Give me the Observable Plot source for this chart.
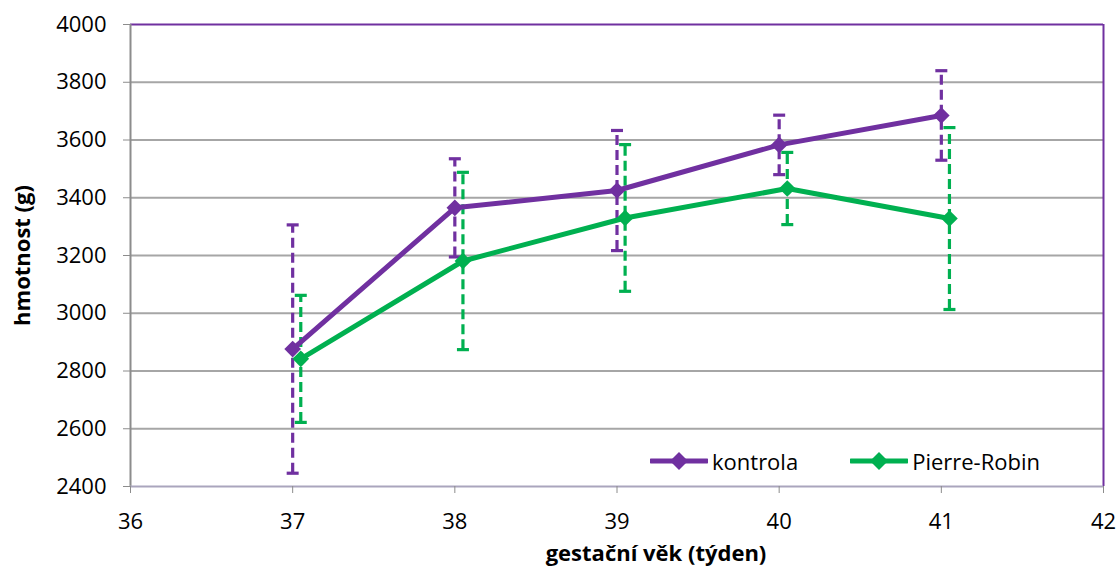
<!DOCTYPE html>
<html>
<head>
<meta charset="utf-8">
<script src="https://cdn.jsdelivr.net/npm/d3@7"></script>
<script src="https://cdn.jsdelivr.net/npm/@observablehq/plot@0.6"></script>
<style>
  html, body { margin: 0; padding: 0; background: #fff; }
  #chart { position: relative; width: 1117px; height: 566px; font-family: "Open Sans", sans-serif; }
  #chart svg { display: block; }
  .legend { position: absolute; left: 650px; top: 446px; display: flex; align-items: center;
            font-family: "Open Sans", sans-serif; font-size: 22px; color: #000; }
  .legend .item { display: flex; align-items: center; margin-right: 52px; }
  .legend svg { margin-right: 4px; }
</style>
</head>
<body>
<div id="chart"></div>
<script>
// Birth weight (g) by gestational age (weeks): mean ± SD for two groups
const weeks = [37, 38, 39, 40, 41];
const kontrolaMean = [2876, 3365, 3425, 3583, 3685];
const kontrolaSD   = [430, 170, 208, 103, 155];
const pierreMean   = [2842, 3181, 3330, 3432, 3328];
const pierreSD     = [220, 307, 254, 125, 315];

const seriesNames  = ["kontrola", "Pierre-Robin"];
const seriesColors = ["#7030A0", "#00B050"];

const xTicks = [36, 37, 38, 39, 40, 41, 42];
const yTicks = [2400, 2600, 2800, 3000, 3200, 3400, 3600, 3800, 4000];

// Second group is nudged right a little so its error bars don't overlap
const seriesDodge = [0, 0.05];

const rows = [];
[[kontrolaMean, kontrolaSD], [pierreMean, pierreSD]].forEach(([means, sds], i) => {
  weeks.forEach((w, j) => {
    rows.push({
      series: seriesNames[i],
      x: w + seriesDodge[i],
      mean: means[j],
      lo: means[j] - sds[j],
      hi: means[j] + sds[j]
    });
  });
});

// Short horizontal stroke used for the error bar caps
const capSymbol = {
  draw(context) {
    context.moveTo(-6, 0);
    context.lineTo(6, 0);
  }
};

const chart = Plot.plot({
  width: 1117,
  height: 566,
  marginLeft: 130,
  marginRight: 14,
  marginTop: 24,
  marginBottom: 80,
  style: { fontFamily: "Open Sans, sans-serif", fontSize: "22px", color: "#000", background: "#fff" },
  x: { domain: [36, 42] },
  y: { domain: [2400, 4000] },
  color: { domain: seriesNames, range: seriesColors },
  marks: [
    Plot.ruleY(yTicks.slice(1, -1), { stroke: "#a6a6a6", strokeWidth: 2 }),
    Plot.ruleY([4000], { stroke: "#7030A0", strokeWidth: 2 }),
    Plot.ruleX([42], { stroke: "#7030A0", strokeWidth: 2 }),
    Plot.ruleX([36], { stroke: "#8c8c8c", strokeWidth: 2 }),
    Plot.ruleY([2400], { stroke: "#aaa5bd", strokeWidth: 2 }),
    Plot.axisY({
      ticks: yTicks, tickFormat: "d", tickSize: 7, tickPadding: 17, stroke: "#8c8c8c",
      fontSize: 22, label: "hmotnost (g)", labelAnchor: "center", labelOffset: 116,
      labelArrow: "none"
    }),
    Plot.axisX({
      ticks: xTicks, tickFormat: "d", tickSize: 7, tickPadding: 20, stroke: "#8c8c8c",
      fontSize: 22, label: "gestační věk (týden)", labelAnchor: "center", labelOffset: 74,
      labelArrow: "none"
    }),
    Plot.ruleX(rows, {
      x: "x", y1: "lo", y2: "hi", stroke: "series",
      strokeWidth: 3.2, strokeDasharray: "10,5"
    }),
    Plot.dot(rows, { x: "x", y: "lo", symbol: capSymbol, stroke: "series", fill: "none", strokeWidth: 3.2 }),
    Plot.dot(rows, { x: "x", y: "hi", symbol: capSymbol, stroke: "series", fill: "none", strokeWidth: 3.2 }),
    Plot.line(rows, { x: "x", y: "mean", z: "series", stroke: "series", strokeWidth: 5 }),
    Plot.dot(rows, { x: "x", y: "mean", symbol: "diamond2", r: 7.5, fill: "series", stroke: "none" })
  ]
});

const root = document.getElementById("chart");
root.appendChild(chart);

// Legend inside the plot area
const legend = document.createElement("div");
legend.className = "legend";
seriesNames.forEach((name, i) => {
  const item = document.createElement("div");
  item.className = "item";
  const c = seriesColors[i];
  item.innerHTML =
    `<svg width="58" height="20" viewBox="0 0 58 20">
       <line x1="1" y1="10" x2="57" y2="10" stroke="${c}" stroke-width="5" stroke-linecap="round"/>
       <path d="M29 1 L38 10 L29 19 L20 10 Z" fill="${c}"/>
     </svg><span>${name}</span>`;
  legend.appendChild(item);
});
root.appendChild(legend);

// Bold axis titles; the x title sits a bit right of the plot centre
root.querySelectorAll('[aria-label="y-axis label"], [aria-label="x-axis label"]').forEach(g => {
  g.setAttribute("font-weight", "bold");
  g.setAttribute("font-size", "22");
});
const xTitle = root.querySelector('[aria-label="x-axis label"] text');
if (xTitle) xTitle.setAttribute("dx", "39");
</script>
</body>
</html>
